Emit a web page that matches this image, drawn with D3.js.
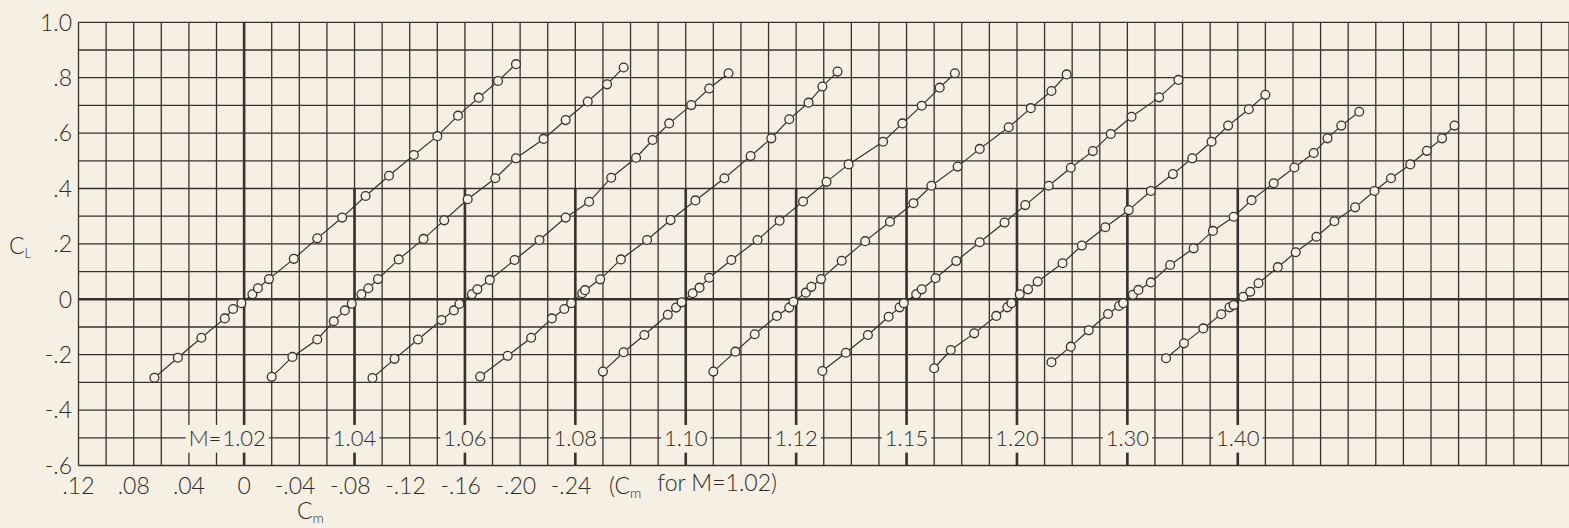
<!DOCTYPE html>
<html>
<head>
<meta charset="utf-8">
<script src="https://cdn.jsdelivr.net/npm/d3@7"></script>
<style>
body { margin: 0; background: #f6efe3; }
svg text { font-family: Lato, "Open Sans", sans-serif; font-weight: 300; fill: #2e2a27; }
</style>
</head>
<body>
<svg></svg>
<script>
// Mach numbers, one curve each, Cm axis of each curve shifted by 0.08
var machs = ["1.02", "1.04", "1.06", "1.08", "1.10", "1.12", "1.15", "1.20", "1.30", "1.40"];
var shift = 0.08;

var cm102 = [0.065,0.048,0.031,0.014,0.008,0.002,-0.006,-0.010,-0.018,-0.036,-0.053,-0.071,-0.088,-0.105,-0.123,-0.140,-0.155,-0.170,-0.184,-0.197];
var cl102 = [-0.283,-0.211,-0.139,-0.069,-0.035,-0.014,0.018,0.040,0.073,0.146,0.220,0.295,0.373,0.446,0.521,0.589,0.663,0.728,0.788,0.849];
var cm104 = [0.060,0.045,0.027,0.015,0.007,0.002,-0.005,-0.010,-0.017,-0.032,-0.050,-0.065,-0.082,-0.102,-0.117,-0.137,-0.153,-0.169,-0.183,-0.195];
var cl104 = [-0.280,-0.208,-0.145,-0.079,-0.040,-0.016,0.018,0.040,0.073,0.144,0.218,0.285,0.361,0.437,0.509,0.579,0.647,0.714,0.776,0.837];
var cm106 = [0.067,0.051,0.034,0.017,0.008,0.004,-0.005,-0.009,-0.018,-0.036,-0.054,-0.073,-0.090,-0.106,-0.124,-0.136,-0.148,-0.164,-0.177,-0.191];
var cl106 = [-0.284,-0.215,-0.145,-0.075,-0.040,-0.017,0.018,0.036,0.070,0.142,0.214,0.295,0.352,0.439,0.511,0.575,0.635,0.701,0.761,0.816];
var cm108 = [0.069,0.049,0.032,0.017,0.008,0.003,-0.005,-0.007,-0.018,-0.033,-0.052,-0.069,-0.087,-0.108,-0.127,-0.142,-0.155,-0.169,-0.179,-0.190];
var cl108 = [-0.279,-0.204,-0.139,-0.069,-0.035,-0.014,0.022,0.033,0.072,0.144,0.214,0.286,0.357,0.437,0.517,0.581,0.650,0.710,0.768,0.822];
var cm110 = [0.060,0.045,0.030,0.013,0.007,0.003,-0.005,-0.010,-0.017,-0.033,-0.052,-0.068,-0.085,-0.102,-0.118,-0.143,-0.157,-0.171,-0.184,-0.195];
var cl110 = [-0.261,-0.191,-0.129,-0.056,-0.030,-0.011,0.022,0.042,0.078,0.142,0.214,0.284,0.353,0.424,0.487,0.569,0.635,0.699,0.764,0.816];
var cm112 = [0.060,0.044,0.030,0.014,0.005,0.002,-0.007,-0.011,-0.018,-0.033,-0.050,-0.068,-0.085,-0.098,-0.117,-0.133,-0.154,-0.170,-0.185,-0.196];
var cl112 = [-0.261,-0.189,-0.126,-0.060,-0.030,-0.009,0.024,0.045,0.073,0.139,0.210,0.280,0.347,0.410,0.479,0.543,0.621,0.690,0.752,0.812];
var cm115 = [0.061,0.044,0.028,0.013,0.005,0.002,-0.007,-0.011,-0.021,-0.036,-0.053,-0.071,-0.086,-0.103,-0.119,-0.135,-0.148,-0.163,-0.183,-0.197];
var cl115 = [-0.259,-0.193,-0.129,-0.063,-0.029,-0.014,0.018,0.036,0.076,0.138,0.206,0.277,0.340,0.410,0.475,0.535,0.597,0.659,0.729,0.792];
var cm120 = [0.060,0.048,0.031,0.015,0.007,0.004,-0.002,-0.008,-0.015,-0.033,-0.047,-0.064,-0.081,-0.097,-0.113,-0.127,-0.141,-0.153,-0.168,-0.180];
var cl120 = [-0.249,-0.183,-0.123,-0.060,-0.029,-0.014,0.018,0.036,0.064,0.130,0.194,0.260,0.322,0.391,0.452,0.509,0.569,0.627,0.686,0.738];
var cm130 = [0.055,0.041,0.028,0.014,0.006,0.003,-0.004,-0.008,-0.017,-0.031,-0.048,-0.062,-0.077,-0.090,-0.106,-0.121,-0.135,-0.145,-0.155,-0.168];
var cl130 = [-0.227,-0.171,-0.112,-0.053,-0.024,-0.014,0.016,0.034,0.061,0.124,0.184,0.247,0.298,0.358,0.419,0.476,0.528,0.581,0.627,0.677];
var cm140 = [0.052,0.039,0.025,0.012,0.006,0.003,-0.004,-0.009,-0.015,-0.029,-0.042,-0.057,-0.070,-0.085,-0.099,-0.111,-0.125,-0.137,-0.148,-0.157];
var cl140 = [-0.213,-0.159,-0.105,-0.054,-0.029,-0.021,0.009,0.027,0.058,0.116,0.170,0.226,0.282,0.332,0.391,0.437,0.487,0.536,0.581,0.627];

var cmTicks = [0.12, 0.08, 0.04, 0, -0.04, -0.08, -0.12, -0.16, -0.20, -0.24];
var clTicks = [-0.6, -0.4, -0.2, 0, 0.2, 0.4, 0.6, 0.8, 1.0];

var cmSeries = [cm102, cm104, cm106, cm108, cm110, cm112, cm115, cm120, cm130, cm140];
var clSeries = [cl102, cl104, cl106, cl108, cl110, cl112, cl115, cl120, cl130, cl140];

var w = 1569, h = 528;
var ink = "#36322e", bg = "#f6efe3";

var svg = d3.select("svg").attr("width", w).attr("height", h);
svg.append("rect").attr("width", w).attr("height", h).attr("fill", bg);

var x = d3.scaleLinear().domain([0.12, -0.96]).range([78.5, 1569]);
var y = d3.scaleLinear().domain([-0.6, 1.0]).range([465.5, 22.3]);

var grid = svg.append("g");

// thin grid, 0.02 in Cm and 0.1 in CL
var vx = d3.range(55).map(i => 0.12 - i * 0.02);
var hy = d3.range(17).map(i => -0.6 + i * 0.1);

grid.selectAll(".v").data(vx).enter().append("line")
  .attr("x1", d => x(d)).attr("x2", d => x(d))
  .attr("y1", y(1.0)).attr("y2", y(-0.6))
  .attr("stroke", ink).attr("stroke-width", 1.3);

grid.selectAll(".h").data(hy).enter().append("line")
  .attr("x1", x(0.12)).attr("x2", w)
  .attr("y1", d => y(d)).attr("y2", d => y(d))
  .attr("stroke", ink).attr("stroke-width", d => Math.abs(d) < 1e-9 ? 2.6 : 1.3);

// heavy zero lines for each Mach number
grid.selectAll(".z").data(machs).enter().append("line")
  .attr("x1", (d, i) => x(-i * shift)).attr("x2", (d, i) => x(-i * shift))
  .attr("y1", (d, i) => i == 0 ? y(1.0) : y(0.4)).attr("y2", y(-0.6))
  .attr("stroke", ink).attr("stroke-width", 2.6);

// Mach labels sit on a patch of paper over the grid
var labels = svg.append("g");
machs.forEach(function(m, i) {
  var cx = x(-i * shift);
  var g = labels.append("g");
  var patch = g.append("rect").attr("fill", bg);
  g.append("text").attr("x", cx).attr("y", y(-0.5)).attr("dy", "0.36em")
    .attr("text-anchor", "middle").attr("font-size", 22).text(m);
  if (i == 0) {
    var left = cx - g.select("text").node().getComputedTextLength() / 2;
    g.append("text").attr("x", left - 1).attr("y", y(-0.5)).attr("dy", "0.36em")
      .attr("text-anchor", "end").attr("font-size", 22).text("M=");
  }
  var bb = g.node().getBBox();
  patch.attr("x", bb.x - 3).attr("width", bb.width + 6)
    .attr("y", y(-0.45) + 1).attr("height", y(-0.55) - y(-0.45));
});

// curves
var line = d3.line().x(d => d[0]).y(d => d[1]);
var curves = svg.append("g");
machs.forEach(function(m, i) {
  var pts = cmSeries[i].map((c, j) => [x(c - i * shift), y(clSeries[i][j])]);
  curves.append("path").attr("d", line(pts))
    .attr("fill", "none").attr("stroke", ink).attr("stroke-width", 1.2);
  curves.append("g").selectAll("circle").data(pts).enter().append("circle")
    .attr("cx", d => d[0]).attr("cy", d => d[1]).attr("r", 4.4)
    .attr("fill", bg).attr("stroke", ink).attr("stroke-width", 1.3);
});

// drafting style numbers: no leading zero
function fmt(v, digits) {
  if (Math.abs(v) < 1e-9) return "0";
  var a = Math.abs(v);
  return a >= 1 ? d3.format(".1f")(a) : d3.format("." + digits + "f")(a).replace(/^0/, "");
}

// CL axis labels
svg.append("g").selectAll("text").data(clTicks).enter().append("text")
  .attr("x", 72).attr("y", d => y(d)).attr("dy", "0.36em")
  .attr("text-anchor", "end").attr("font-size", 23)
  .text(d => (d < 0 ? "-" : "") + fmt(d, 1));

var clLab = svg.append("text").attr("x", 9).attr("y", y(0.2) + 2).attr("dy", "0.36em").attr("font-size", 23);
clLab.append("tspan").text("C");
clLab.append("tspan").attr("font-size", 13).attr("dy", "0.3em").text("L");

// Cm axis labels, number centred on the grid line, minus sign hanging left
var xl = svg.append("g");
cmTicks.forEach(function(v) {
  var t = xl.append("text").attr("x", x(v)).attr("y", 494)
    .attr("text-anchor", "middle").attr("font-size", 23).text(fmt(v, 2));
  if (v < -1e-9) {
    var half = t.node().getComputedTextLength() / 2;
    xl.append("text").attr("x", x(v) - half).attr("y", 494)
      .attr("text-anchor", "end").attr("font-size", 23).text("-");
  }
});

var note = svg.append("text").attr("x", 609).attr("y", 494).attr("font-size", 23);
note.append("tspan").text("(C");
note.append("tspan").attr("font-size", 14).attr("dy", "0.3em").text("m");
note.append("tspan").attr("dy", "-0.3em").attr("dx", 16).text("for M=1.02)");

var cmLab = svg.append("text").attr("x", 297).attr("y", 519).attr("font-size", 23);
cmLab.append("tspan").text("C");
cmLab.append("tspan").attr("font-size", 14).attr("dy", "0.3em").text("m");
</script>
</body>
</html>
